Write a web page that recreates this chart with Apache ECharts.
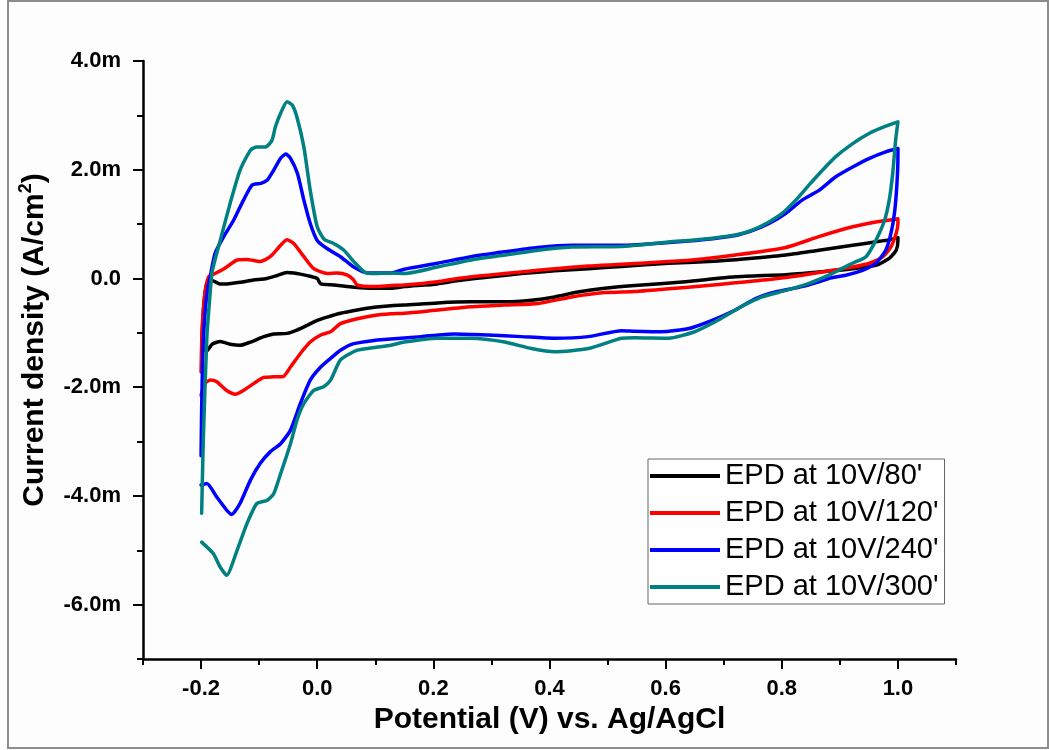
<!DOCTYPE html>
<html>
<head>
<meta charset="utf-8">
<script src="https://cdn.jsdelivr.net/npm/echarts@6/dist/echarts.min.js"></script>
<style>
  html, body { margin: 0; padding: 0; background: #fdfdfd; }
  #chart { width: 1049px; height: 750px; }
</style>
</head>
<body>
<div id="chart"></div>
<script>
// legend names
var seriesNames = ["EPD at 10V/80'", "EPD at 10V/120'", "EPD at 10V/240'", "EPD at 10V/300'"];

// tick values
var xMajorTicks = [-0.2, 0, 0.2, 0.4, 0.6, 0.8, 1.0];
var yMajorTicks = [-6, -4, -2, 0, 2, 4];

// [potential V, current density mA/cm2], in scan order
var cv80 = [
  [-0.199,-1.38],[-0.198,-1.0],[-0.196,-0.6],[-0.193,-0.25],[-0.189,-0.06],[-0.18,-0.04],[-0.168,-0.10],[-0.155,-0.10],
  [-0.133,-0.07],[-0.11,-0.03],[-0.087,0.0],[-0.07,0.05],[-0.052,0.11],[-0.04,0.10],[-0.029,0.08],[-0.012,0.04],[0.0,0.0],
  [0.006,-0.10],[0.029,-0.12],[0.052,-0.15],[0.075,-0.17],[0.1,-0.18],[0.127,-0.18],[0.15,-0.15],[0.207,-0.10],[0.242,-0.04],
  [0.3,0.03],[0.351,0.09],[0.409,0.14],[0.467,0.18],[0.524,0.22],[0.605,0.28],[0.691,0.32],[0.749,0.37],[0.807,0.43],
  [0.864,0.52],[0.922,0.61],[0.96,0.67],[0.985,0.71],[1.0,0.75],
  [1.0,0.70],[0.997,0.52],[0.985,0.37],[0.962,0.24],[0.922,0.18],[0.864,0.12],[0.807,0.07],[0.72,0.03],[0.634,-0.06],
  [0.547,-0.13],[0.495,-0.18],[0.449,-0.25],[0.409,-0.34],[0.369,-0.40],[0.323,-0.43],[0.265,-0.43],[0.207,-0.45],
  [0.15,-0.49],[0.127,-0.50],[0.098,-0.53],[0.069,-0.58],[0.040,-0.64],[0.017,-0.71],[0.0,-0.77],[-0.017,-0.86],
  [-0.035,-0.95],[-0.052,-1.01],[-0.075,-1.02],[-0.092,-1.07],[-0.115,-1.17],[-0.133,-1.23],[-0.150,-1.21],[-0.167,-1.16],
  [-0.181,-1.21],[-0.190,-1.33],[-0.196,-1.30]
];

var cv120 = [
  [-0.2,-1.72],[-0.199,-1.2],[-0.197,-0.7],[-0.193,-0.25],[-0.187,0.03],[-0.176,0.09],[-0.165,0.15],[-0.156,0.21],
  [-0.138,0.34],[-0.121,0.35],[-0.098,0.31],[-0.081,0.40],[-0.063,0.61],[-0.052,0.71],[-0.040,0.64],[-0.023,0.40],
  [-0.006,0.18],[0.017,0.09],[0.035,0.10],[0.052,0.06],[0.062,-0.02],[0.069,-0.12],[0.098,-0.15],[0.127,-0.13],
  [0.15,-0.12],[0.207,-0.06],[0.242,0.0],[0.294,0.06],[0.351,0.12],[0.409,0.18],[0.467,0.23],[0.524,0.26],[0.605,0.31],
  [0.663,0.36],[0.72,0.43],[0.807,0.57],[0.864,0.77],[0.922,0.95],[0.962,1.04],[1.0,1.10],
  [1.0,1.01],[0.997,0.83],[0.988,0.58],[0.974,0.40],[0.951,0.28],[0.922,0.21],[0.893,0.16],[0.835,0.06],[0.778,-0.02],
  [0.72,-0.08],[0.663,-0.14],[0.605,-0.19],[0.547,-0.24],[0.495,-0.26],[0.438,-0.34],[0.38,-0.46],[0.323,-0.49],
  [0.265,-0.52],[0.207,-0.58],[0.150,-0.64],[0.127,-0.65],[0.098,-0.68],[0.069,-0.74],[0.040,-0.83],[0.023,-0.98],
  [0.006,-1.04],[-0.012,-1.17],[-0.029,-1.38],[-0.046,-1.63],[-0.058,-1.80],[-0.075,-1.81],[-0.092,-1.82],[-0.109,-1.93],
  [-0.127,-2.06],[-0.141,-2.13],[-0.156,-2.06],[-0.173,-1.90],[-0.184,-1.87],[-0.193,-1.93],[-0.2,-2.15]
];

var cv240 = [
  [-0.2,-3.26],[-0.199,-2.4],[-0.197,-1.4],[-0.193,-0.6],[-0.188,-0.15],[-0.184,0.05],[-0.176,0.46],[-0.161,0.77],
  [-0.144,1.07],[-0.127,1.44],[-0.112,1.72],[-0.097,1.75],[-0.086,1.81],[-0.075,1.99],[-0.063,2.21],[-0.054,2.29],
  [-0.046,2.21],[-0.034,1.93],[-0.023,1.44],[-0.012,1.01],[0.0,0.70],[0.017,0.55],[0.040,0.40],[0.063,0.21],[0.087,0.10],
  [0.127,0.10],[0.150,0.17],[0.207,0.28],[0.265,0.40],[0.323,0.49],[0.380,0.57],[0.438,0.61],[0.524,0.61],[0.605,0.66],
  [0.663,0.71],[0.720,0.79],[0.749,0.88],[0.778,1.01],[0.807,1.20],[0.835,1.44],[0.864,1.62],[0.893,1.87],[0.922,2.05],
  [0.951,2.21],[0.979,2.33],[1.0,2.39],
  [1.0,2.24],[0.998,1.69],[0.994,1.20],[0.988,0.83],[0.979,0.52],[0.962,0.28],[0.939,0.15],[0.91,0.06],[0.881,0.0],
  [0.864,-0.06],[0.835,-0.15],[0.789,-0.25],[0.755,-0.37],[0.72,-0.58],[0.68,-0.77],[0.64,-0.92],[0.593,-0.98],
  [0.547,-0.97],[0.524,-0.96],[0.467,-1.07],[0.409,-1.10],[0.351,-1.07],[0.294,-1.04],[0.236,-1.02],[0.179,-1.07],
  [0.121,-1.12],[0.098,-1.14],[0.063,-1.20],[0.040,-1.32],[0.023,-1.47],[0.006,-1.63],[-0.012,-1.87],[-0.029,-2.30],
  [-0.046,-2.79],[-0.063,-3.04],[-0.081,-3.19],[-0.098,-3.40],[-0.115,-3.71],[-0.133,-4.14],[-0.147,-4.34],
  [-0.156,-4.26],[-0.173,-4.02],[-0.190,-3.77],[-0.2,-3.80]
];

var cv300 = [
  [-0.199,-4.32],[-0.196,-2.91],[-0.19,-1.07],[-0.185,-0.35],[-0.181,0.12],[-0.167,0.70],[-0.150,1.38],[-0.133,1.99],
  [-0.115,2.36],[-0.104,2.42],[-0.089,2.42],[-0.078,2.54],[-0.072,2.79],[-0.063,3.04],[-0.052,3.25],[-0.043,3.19],
  [-0.035,2.97],[-0.023,2.42],[-0.012,1.62],[0.0,0.95],[0.012,0.72],[0.029,0.64],[0.046,0.52],[0.063,0.31],[0.081,0.12],
  [0.098,0.09],[0.127,0.10],[0.150,0.09],[0.207,0.21],[0.265,0.34],[0.323,0.43],[0.380,0.52],[0.438,0.58],[0.524,0.59],
  [0.605,0.67],[0.663,0.72],[0.720,0.80],[0.749,0.89],[0.778,1.04],[0.801,1.20],[0.824,1.44],[0.847,1.72],[0.870,1.99],
  [0.893,2.24],[0.922,2.48],[0.951,2.67],[0.979,2.80],[1.0,2.88],
  [0.996,2.54],[0.991,1.93],[0.985,1.44],[0.977,1.07],[0.962,0.70],[0.945,0.40],[0.922,0.28],[0.905,0.19],[0.881,0.06],
  [0.847,-0.09],[0.807,-0.22],[0.766,-0.34],[0.73,-0.52],[0.69,-0.77],[0.65,-0.98],[0.605,-1.10],[0.547,-1.09],
  [0.524,-1.10],[0.467,-1.29],[0.409,-1.35],[0.369,-1.29],[0.323,-1.17],[0.265,-1.10],[0.207,-1.10],[0.150,-1.17],
  [0.127,-1.23],[0.098,-1.27],[0.069,-1.32],[0.040,-1.50],[0.023,-1.87],[0.011,-1.99],[-0.006,-2.06],[-0.023,-2.30],
  [-0.035,-2.61],[-0.046,-3.04],[-0.063,-3.59],[-0.075,-3.96],[-0.086,-4.08],[-0.104,-4.14],[-0.121,-4.51],
  [-0.138,-5.00],[-0.156,-5.46],[-0.167,-5.31],[-0.179,-5.06],[-0.199,-4.85]
];

var curves = [cv80, cv120, cv240, cv300];
var colors = ['#000000', '#ff0000', '#0000ff', '#008080'];
var font = "'Liberation Sans', Arial, sans-serif";

var chart = echarts.init(document.getElementById('chart'));

var series = curves.map(function (d, i) {
  return {
    name: seriesNames[i],
    type: 'line',
    xAxisIndex: 0,
    yAxisIndex: 0,
    data: d,
    showSymbol: false,
    smooth: 0.2,
    color: colors[i],
    lineStyle: { width: 3.5, color: colors[i], join: 'round', cap: 'round' },
    animation: false,
    z: 2 + i
  };
});

chart.setOption({
  backgroundColor: '#fdfdfd',
  animation: false,
  grid: { left: 143, right: 93, top: 61, bottom: 91, containLabel: false },
  xAxis: [
    {
      // minor ticks every 0.1
      type: 'value', min: -0.3, max: 1.1, interval: 0.1, position: 'bottom',
      axisLine: { show: true, onZero: false, lineStyle: { color: '#000', width: 2.5 } },
      axisTick: { show: true, length: 6, lineStyle: { color: '#000', width: 2 } },
      axisLabel: { show: false },
      splitLine: { show: false }
    },
    {
      // labelled ticks
      type: 'value', min: -0.3, max: 1.1, position: 'bottom',
      axisLine: { show: false, onZero: false },
      axisTick: { show: true, length: 10, customValues: xMajorTicks, lineStyle: { color: '#000', width: 2 } },
      axisLabel: {
        show: true, customValues: xMajorTicks, margin: 19,
        formatter: function (v) { return v.toFixed(1); },
        color: '#000', fontFamily: font, fontWeight: 'bold', fontSize: 22
      },
      splitLine: { show: false },
      name: 'Potential (V) vs. Ag/AgCl', nameLocation: 'middle', nameGap: 45,
      nameTextStyle: { color: '#000', fontFamily: font, fontWeight: 'bold', fontSize: 30 }
    }
  ],
  yAxis: [
    {
      type: 'value', min: -7, max: 4, interval: 1, position: 'left',
      axisLine: { show: true, onZero: false, lineStyle: { color: '#000', width: 2.5 } },
      axisTick: { show: true, length: 6, lineStyle: { color: '#000', width: 2 } },
      axisLabel: { show: false },
      splitLine: { show: false }
    },
    {
      type: 'value', min: -7, max: 4, position: 'left',
      axisLine: { show: false, onZero: false },
      axisTick: { show: true, length: 10, customValues: yMajorTicks, lineStyle: { color: '#000', width: 2 } },
      axisLabel: {
        show: true, customValues: yMajorTicks, margin: 22,
        formatter: function (v) { return v === 0 ? '0.0' : v.toFixed(1) + 'm'; },
        color: '#000', fontFamily: font, fontWeight: 'bold', fontSize: 22
      },
      splitLine: { show: false },
      name: 'Current density (A/cm{sup|2})', nameLocation: 'middle', nameGap: 88,
      nameTextStyle: {
        color: '#000', fontFamily: font, fontWeight: 'bold', fontSize: 30,
        lineHeight: 36,
        padding: [0, 0, 0, 40],
        rich: {
          sup: { fontFamily: font, fontWeight: 'bold', fontSize: 18, color: '#000', verticalAlign: 'top', lineHeight: 18 }
        }
      }
    }
  ],
  legend: {
    orient: 'vertical',
    left: 648, top: 459,
    data: seriesNames,
    icon: 'rect',
    itemWidth: 70, itemHeight: 4,
    itemGap: 7,
    padding: [2, 6, 2, 2],
    borderColor: '#666', borderWidth: 1,
    backgroundColor: '#ffffff',
    textStyle: { color: '#000', fontFamily: font, fontSize: 29, lineHeight: 30 },
    selectedMode: false
  },
  graphic: [{
    type: 'rect', silent: true,
    shape: { x: 8, y: 1, width: 1040, height: 747 },
    style: { fill: 'none', stroke: '#8c8c8c', lineWidth: 2 }
  }],
  series: series
});
</script>
</body>
</html>
